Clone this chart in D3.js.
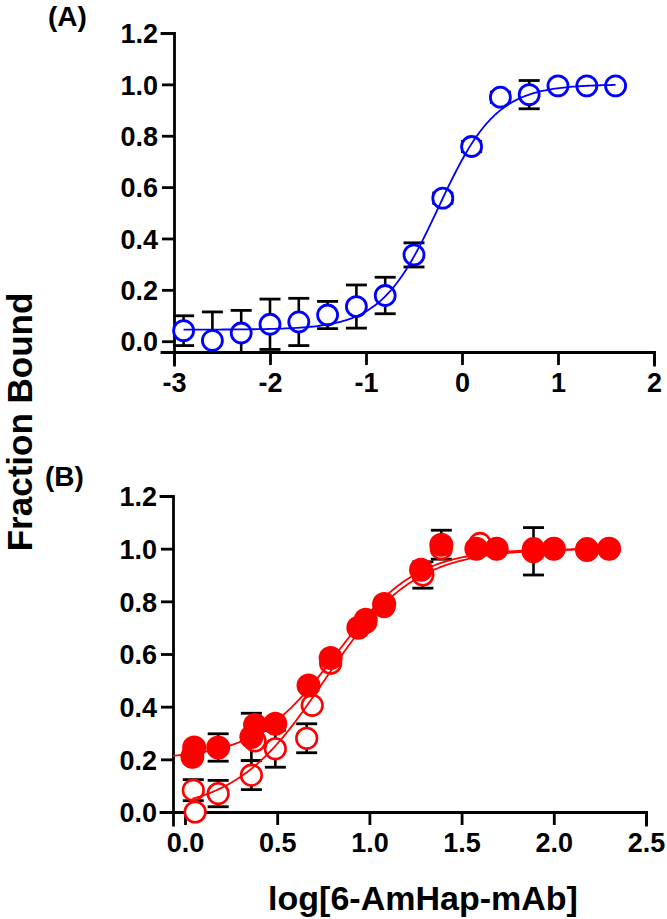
<!DOCTYPE html>
<html><head><meta charset="utf-8">
<script src="https://cdn.jsdelivr.net/npm/d3@7"></script>
<style>
body{margin:0;background:#fff;}
svg{display:block;}
text{font-family:"Liberation Sans",Arial,sans-serif;font-weight:bold;fill:#000;}
</style></head><body>
<svg id="chart" width="667" height="919"></svg>
<script>
// ---- Panel A (blue, open circles) ----
const aX  = [-2.9,-2.6,-2.3,-2.0,-1.7,-1.4,-1.1,-0.8,-0.5,-0.2,0.1,0.4,0.7,1.0,1.3,1.6];
const aY  = [0.041,0.003,0.032,0.066,0.075,0.102,0.135,0.178,0.336,0.557,0.758,0.95,0.96,0.994,0.994,0.994];
const aSD = [0.058,0.111,0.088,0.098,0.092,0.053,0.084,0.071,0.047,0.02,0.02,0.02,0.055,0.01,0.01,0.01];
const aFit = [0.045, 1.0, -0.243, 1.445];      // bottom, top, logEC50, hill
const aFitRange = [-2.9, 1.6];
const aXTicks = [-3,-2,-1,0,1,2];

// ---- Panel B (red, filled and open circles) ----
const bFilledX  = [0.04,0.05,0.18,0.36,0.38,0.49,0.67,0.79,0.94,0.98,1.08,1.28,1.39,1.58,1.69,1.89,2.0,2.18,2.3];
const bFilledY  = [0.21,0.245,0.245,0.285,0.33,0.335,0.48,0.585,0.70,0.73,0.79,0.92,1.015,1.0,1.0,0.99,1.0,0.995,1.0];
const bFilledSD = [0,0,0.052,0.09,0,0,0,0,0,0,0,0,0.055,0,0,0.09,0,0,0];
const bOpenX  = [0.045,0.055,0.18,0.36,0.38,0.49,0.66,0.69,0.79,0.98,1.08,1.29,1.39,1.6,1.69,1.89,2.0,2.18,2.3];
const bOpenY  = [0.083,0.0,0.07,0.14,0.27,0.24,0.28,0.405,0.565,0.72,0.78,0.90,1.0,1.02,1.0,1.0,1.0,1.0,1.0];
const bOpenSD = [0.04,0,0.05,0.055,0,0.07,0.055,0,0,0,0,0.05,0,0,0,0,0,0,0];
const bFilledFit = [0.2, 1.0, 0.82, 2.0];
const bFilledFitRange = [-0.065, 2.3];
const bOpenFit = [0.0, 1.0, 0.756, 1.785];
const bOpenFitRange = [0.04, 2.3];
const bXTicks = [0,0.5,1.0,1.5,2.0,2.5];

const yTicks = [0,0.2,0.4,0.6,0.8,1.0,1.2];
const panelLabels = ["(A)","(B)"];
const yTitle = "Fraction Bound";
const xTitle = "log[6-AmHap-mAb]";

const svg = d3.select("#chart");
const FONT = 27;

function logistic(p, x){ return p[0] + (p[1]-p[0])/(1+Math.pow(10,(p[2]-x)*p[3])); }
const hyph = f => (d => f(d).replace("\u2212","-"));

function drawAxes(g, x, y, xTicks, xFmt){
  const ya = g.append("g").attr("transform",`translate(${x.range()[0]},0)`)
    .call(d3.axisLeft(y).tickValues(yTicks).tickFormat(hyph(d3.format(".1f"))).tickSizeOuter(0).tickSize(12).tickPadding(4));
  const xa = g.append("g").attr("transform",`translate(0,${y.range()[0]})`)
    .call(d3.axisBottom(x).tickValues(xTicks).tickFormat(hyph(xFmt)).tickSizeOuter(0).tickSize(13).tickPadding(8));
  [ya,xa].forEach(a=>{
    a.selectAll("path,line").attr("stroke","#000").attr("stroke-width",2.8);
    a.selectAll("text").attr("font-size",FONT).attr("font-family","Liberation Sans, Arial, sans-serif").attr("font-weight","bold").attr("fill","#000");
  });
  ya.selectAll("text").attr("dy","0.36em");
  ya.select(".domain").attr("stroke-linecap","square");
  xa.select(".domain").attr("stroke-linecap","square");
}

function drawErrors(g, x, y, xs, ys, sds){
  const dmin = y.domain()[0], dmax = y.domain()[1];
  xs.forEach((xv,i)=>{
    const sd = sds[i]; if(!sd) return;
    const lo = ys[i]-sd, hi = ys[i]+sd;
    const loC = Math.max(lo,dmin), hiC = Math.min(hi,dmax);
    g.append("line").attr("x1",x(xv)).attr("x2",x(xv)).attr("y1",y(loC)).attr("y2",y(hiC))
      .attr("stroke","#000").attr("stroke-width",2.6);
    [[lo,loC],[hi,hiC]].forEach(([v,c])=>{
      if(v!==c) return;
      g.append("line").attr("x1",x(xv)-10.5).attr("x2",x(xv)+10.5).attr("y1",y(v)).attr("y2",y(v))
        .attr("stroke","#000").attr("stroke-width",2.8);
    });
  });
}

function drawCurve(g, x, y, p, range, color){
  const n = 200, pts = d3.range(n+1).map(i=>{ const xv = range[0]+(range[1]-range[0])*i/n; return [xv, logistic(p,xv)]; });
  g.append("path").attr("d", d3.line().x(d=>x(d[0])).y(d=>y(d[1]))(pts))
    .attr("fill","none").attr("stroke",color).attr("stroke-width",1.8);
}

// ---- Panel A ----
const xA = d3.scaleLinear().domain([-3,2]).range([174,654]);
const yA = d3.scaleLinear().domain([-0.042,1.2]).range([352,33]);
const gA = svg.append("g");
drawAxes(gA, xA, yA, aXTicks, d3.format("d"));
drawErrors(gA, xA, yA, aX, aY, aSD);
gA.selectAll("circle.a").data(aX).enter().append("circle")
  .attr("cx",(d)=>xA(d)).attr("cy",(d,i)=>yA(aY[i])).attr("r",10)
  .attr("fill","#fff").attr("stroke","#0000ff").attr("stroke-width",2.8);
drawCurve(gA, xA, yA, aFit, aFitRange, "#0000ff");

// ---- Panel B ----
const xB = d3.scaleLinear().domain([-0.065,2.5]).range([173,646]);
const yB = d3.scaleLinear().domain([0,1.2]).range([812,496]);
const gB = svg.append("g");
drawAxes(gB, xB, yB, bXTicks, d3.format(".1f"));
drawErrors(gB, xB, yB, bOpenX, bOpenY, bOpenSD);
drawErrors(gB, xB, yB, bFilledX, bFilledY, bFilledSD);
gB.selectAll("circle.o").data(bOpenX).enter().append("circle")
  .attr("cx",(d)=>xB(d)).attr("cy",(d,i)=>yB(bOpenY[i])).attr("r",10.3)
  .attr("fill","#fff").attr("stroke","#ff0000").attr("stroke-width",2.6);
gB.selectAll("circle.f").data(bFilledX).enter().append("circle")
  .attr("cx",(d)=>xB(d)).attr("cy",(d,i)=>yB(bFilledY[i])).attr("r",12)
  .attr("fill","#ff0000").attr("stroke","none");
drawCurve(gB, xB, yB, bOpenFit, bOpenFitRange, "#ff0000");
drawCurve(gB, xB, yB, bFilledFit, bFilledFitRange, "#ff0000");

// ---- Titles and labels ----
svg.append("text").attr("x",48).attr("y",26).attr("font-size",28).text(panelLabels[0]);
svg.append("text").attr("x",45).attr("y",486).attr("font-size",28).text(panelLabels[1]);
svg.append("text").attr("transform","translate(32,422) rotate(-90)").attr("text-anchor","middle")
  .attr("font-size",35).text(yTitle);
svg.append("text").attr("x",423).attr("y",910).attr("text-anchor","middle").attr("font-size",34).text(xTitle);
</script></body></html>
